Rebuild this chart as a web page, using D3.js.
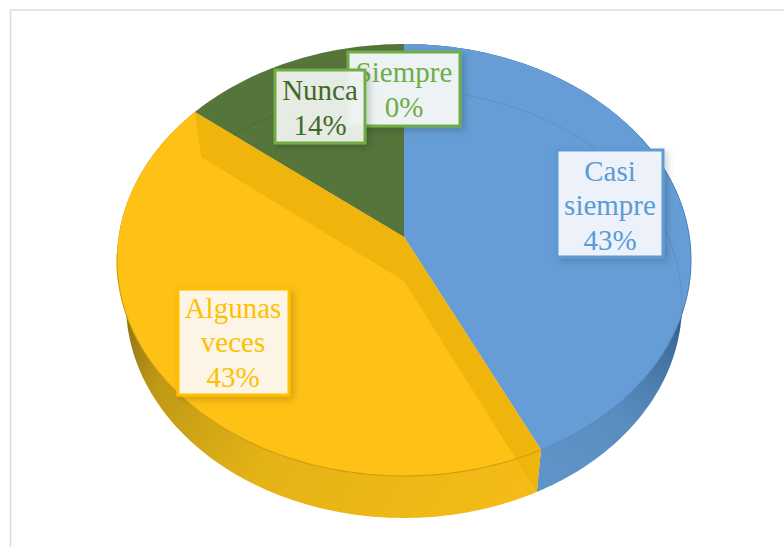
<!DOCTYPE html>
<html><head><meta charset="utf-8">
<script src="https://cdnjs.cloudflare.com/ajax/libs/d3/7.8.5/d3.min.js"></script>
<style>html,body{margin:0;padding:0;background:#fff}svg{display:block}</style>
</head><body><svg id="c" width="784" height="547"></svg>
<script>
const categories = ["Casi siempre", "Algunas veces", "Nunca", "Siempre"];
const values = [42.86, 42.86, 14.28, 0];
const labelLines = [["Casi", "siempre"], ["Algunas", "veces"], ["Nunca"], ["Siempre"]];

const faceColors = ["#669dd6", "#fec115", "#54743a", "#70ad47"];
const wallColors = ["#5a8ec4", "#f0b50c", "#4c6a33", "#70ad47"];
const textColors = ["#5b9bd5", "#ffc000", "#43682b", "#70ad47"];
const borderColors = ["#5b9bd5", "#ffc000", "#70ad47", "#70ad47"];
const boxFill = ["#f0f4fb", "#fdf7ea", "#f1f4f0", "#f0f4f5"];
const boxOpacity = [0.98, 0.98, 0.93, 0.98];
// box layout: x0, y0, x1, y1, text centre, baseline shift
const boxes = [[557,150,663,257,610,11.5],[178,289,289,395,233,10],[275,70,365,143,320,11],[348,52,460,126,404,10.5]];
const drawOrder = [0,1,3,2];

const topDisk = {cx:404, ax:237, p:188.3, c:0.1065, R:285.4};
const baseDisk = {cx:404, ax:281, p:181.3, c:0.1075, R:276.4};
function project(d, a){
  const u = Math.sin(a), v = Math.cos(a), w = 1 + d.c*v;
  return [d.cx + d.R*u/w, (d.ax - d.p*v)/w];
}
const arcPts = (d, a0, a1) => {
  const n = Math.max(2, Math.ceil(Math.abs(a1-a0)/0.02));
  return d3.range(n+1).map(i => project(d, a0 + (a1-a0)*i/n));
};

const pie = d3.pie().sort(null).value(v => v).startAngle(0).endAngle(2*Math.PI);
const arcs = pie(values);
const line = d3.line();
const svg = d3.select("#c");
const defs = svg.append("defs");

const shadow = defs.append("filter").attr("id","sh").attr("x","-20%").attr("y","-20%").attr("width","150%").attr("height","150%");
shadow.append("feDropShadow").attr("dx",3).attr("dy",3).attr("stdDeviation",3.5).attr("flood-color","#000").attr("flood-opacity",0.18);
const soft = defs.append("filter").attr("id","soft");
soft.append("feGaussianBlur").attr("stdDeviation",0.5);

function grad(id, x1, y1, x2, y2, stops){
  const g = defs.append("linearGradient").attr("id",id).attr("gradientUnits","userSpaceOnUse")
    .attr("x1",x1).attr("y1",y1).attr("x2",x2).attr("y2",y2);
  stops.forEach(s => g.append("stop").attr("offset",s[0]).attr("stop-color",s[1]));
}
grad("sideBlue",690,300,540,490,[[0,"#24507f"],[0.2,"#41709f"],[0.55,"#5a8cbf"],[1,"#6095cb"]]);
grad("sideYel",125,320,500,510,[[0,"#8f7414"],[0.14,"#c09a14"],[0.45,"#e4b318"],[1,"#f4bb18"]]);

// frame
svg.append("path").attr("d", line([[784,10],[10.5,10],[10.5,547]])).attr("fill","none").attr("stroke","#dcdcdc").attr("stroke-width",1.6);

const chart = svg.append("g").attr("filter","url(#soft)");

// side walls
arcs.slice(0,2).forEach((a,i) => {
  const pts = arcPts(topDisk,a.startAngle,a.endAngle).concat(arcPts(baseDisk,a.endAngle,a.startAngle));
  chart.append("path").attr("d",line(pts)+"Z").attr("fill",i===0?"url(#sideBlue)":"url(#sideYel)");
});

// top faces
arcs.forEach((a,i) => {
  if (a.endAngle - a.startAngle <= 0) return;
  const pts = [[topDisk.cx, topDisk.ax]].concat(arcPts(topDisk,a.startAngle,a.endAngle));
  chart.append("path").attr("d",line(pts)+"Z").attr("fill",faceColors[i]);
});

// base rim seen through the translucent top
arcs.forEach((a,i) => {
  if (a.endAngle - a.startAngle <= 0 || i===1) return;
  const a0 = i===0 ? 0.25 : a.startAngle+0.05, a1 = i===0 ? 1.75 : a.endAngle-0.35;
  chart.append("path").attr("d",line(arcPts(baseDisk,a0,a1))).attr("fill","none")
    .attr("stroke",d3.color(faceColors[i]).darker(0.5)).attr("stroke-width",0.8).attr("opacity",0.7);
});

// yellow radial walls seen through the top
const yel = arcs[1];
[yel.startAngle, yel.endAngle].forEach(e => {
  const pts = [[topDisk.cx,topDisk.ax], project(topDisk,e), project(baseDisk,e), [baseDisk.cx,baseDisk.ax]];
  chart.append("path").attr("d",line(pts)+"Z").attr("fill",wallColors[1]);
});

// front rim of the top face
chart.append("path").attr("d",line(arcPts(topDisk,yel.startAngle,yel.endAngle-0.75)))
  .attr("fill","none").attr("stroke","#d09c0e").attr("stroke-width",1.1);
chart.append("path").attr("d",line(arcPts(topDisk,arcs[0].startAngle+1.0,arcs[0].endAngle)))
  .attr("fill","none").attr("stroke","#4f85bd").attr("stroke-width",1);

// labels
const total = d3.sum(values), pct = d3.format(".0%");
const LH = 34.5;
drawOrder.forEach(i => {
  const [x0,y0,x1,y1,tc,shift] = boxes[i];
  const g = svg.append("g");
  g.append("rect").attr("x",x0).attr("y",y0).attr("width",x1-x0).attr("height",y1-y0)
    .attr("fill",boxFill[i]).attr("fill-opacity",boxOpacity[i]).attr("stroke",borderColors[i]).attr("stroke-width",3)
    .attr("filter","url(#sh)");
  const lines = labelLines[i].concat([pct(values[i]/total)]);
  const mid = (y0+y1)/2 + shift;
  lines.forEach((t,k) => {
    g.append("text").attr("x",tc).attr("y",mid + (k-(lines.length-1)/2)*LH)
      .attr("text-anchor","middle").attr("font-family","'Liberation Serif'").attr("font-size",29)
      .attr("fill",textColors[i]).text(t);
  });
});
</script></body></html>
